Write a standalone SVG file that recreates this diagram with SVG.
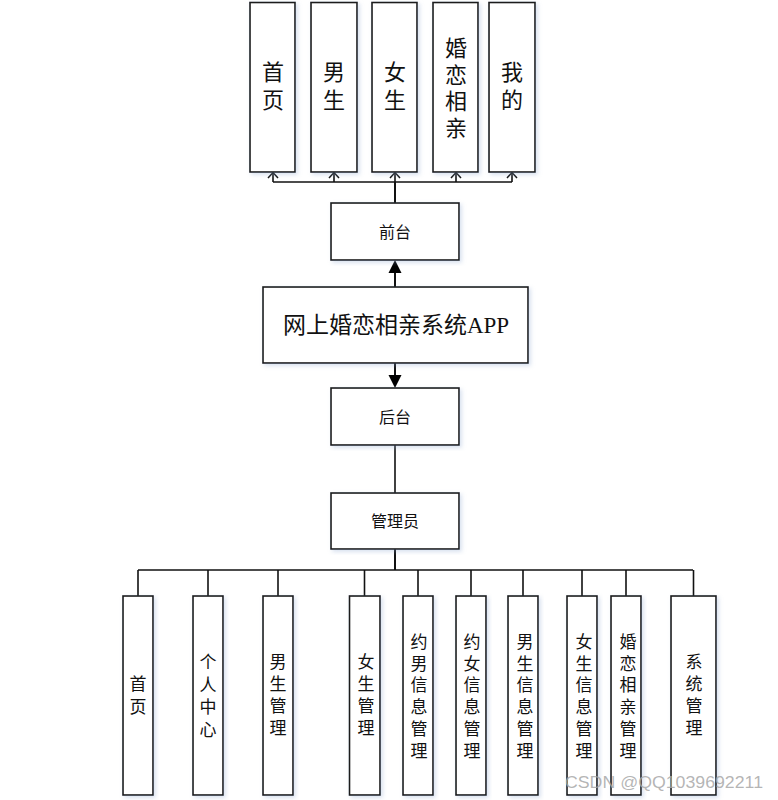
<svg xmlns="http://www.w3.org/2000/svg" width="778" height="800" viewBox="0 0 778 800">
<defs>
<style>
.box{fill:#fff;stroke:#1a1a1a;stroke-width:1.6}
.t{font-family:'Liberation Serif','Noto Sans CJK SC',serif;fill:#111;text-anchor:middle}
.c{fill:none;stroke:#111;stroke-width:1.6}
.ah{fill:none;stroke:#111;stroke-width:1.5}
.wm{font-family:'Liberation Sans',Arial,sans-serif;font-size:17px;fill:#a8a8a8;fill-opacity:0.85}
</style>
<filter id="sh" x="-20%" y="-10%" width="140%" height="120%">
<feDropShadow dx="2" dy="2" stdDeviation="2" flood-color="#8fa8d0" flood-opacity="0.35"/>
</filter>
</defs>
<rect width="778" height="800" fill="#fff"/>

<g id="connectors">
<!-- top bus -->
<path class="c" d="M273,182 H512"/>
<path class="c" d="M273,182 V173"/>
<path class="c" d="M334,182 V173"/>
<path class="c" d="M395,182 V173"/>
<path class="c" d="M456,182 V173"/>
<path class="c" d="M512,182 V173"/>
<path class="ah" d="M268,178 L273,172.5 L278,178"/>
<path class="ah" d="M329,178 L334,172.5 L339,178"/>
<path class="ah" d="M390,178 L395,172.5 L400,178"/>
<path class="ah" d="M451,178 L456,172.5 L461,178"/>
<path class="ah" d="M507,178 L512,172.5 L517,178"/>
<path class="c" d="M395,203 V182" style="stroke-width:2"/>
<!-- main to front -->
<path class="c" d="M395,287 V273" style="stroke-width:2"/>
<path d="M395,260 L401.5,273 L388.5,273 Z" fill="#000"/>
<!-- main to back -->
<path class="c" d="M395,363 V375" style="stroke-width:2"/>
<path d="M388.5,375 L401.5,375 L395,388 Z" fill="#000"/>
<!-- back to admin -->
<path class="c" d="M395,445 V493"/>
<!-- bottom bus -->
<path class="c" d="M395,549 V570" style="stroke-width:2"/>
<path class="c" d="M138,570 H693"/>
<path class="c" d="M138,570 V596"/>
<path class="c" d="M208,570 V596"/>
<path class="c" d="M278,570 V596"/>
<path class="c" d="M364.5,570 V596"/>
<path class="c" d="M418,570 V596"/>
<path class="c" d="M471,570 V596"/>
<path class="c" d="M523,570 V596"/>
<path class="c" d="M582,570 V596"/>
<path class="c" d="M626,570 V596"/>
<path class="c" d="M693.5,570 V596"/>
</g>

<g id="top-home"><rect class="box" filter="url(#sh)" x="250" y="2.5" width="45" height="169.5"/>
<text class="t" font-size="22" x="273" y="80">首<tspan x="273" dy="28">页</tspan></text></g>
<g id="top-male"><rect class="box" filter="url(#sh)" x="311" y="2.5" width="46" height="169.5"/>
<text class="t" font-size="22" x="334" y="80">男<tspan x="334" dy="28">生</tspan></text></g>
<g id="top-female"><rect class="box" filter="url(#sh)" x="372" y="2.5" width="45" height="169.5"/>
<text class="t" font-size="22" x="395" y="80">女<tspan x="395" dy="28">生</tspan></text></g>
<g id="top-dating"><rect class="box" filter="url(#sh)" x="433" y="2.5" width="45" height="169.5"/>
<text class="t" font-size="22" x="456" y="56">婚<tspan x="456" dy="26.5">恋</tspan><tspan x="456" dy="26.5">相</tspan><tspan x="456" dy="26.5">亲</tspan></text></g>
<g id="top-mine"><rect class="box" filter="url(#sh)" x="489" y="2.5" width="46" height="169.5"/>
<text class="t" font-size="22" x="512" y="80">我<tspan x="512" dy="28">的</tspan></text></g>

<g id="front"><rect class="box" filter="url(#sh)" x="331" y="203" width="128" height="57"/>
<text class="t" font-size="16" x="395" y="238">前台</text></g>

<g id="main"><rect class="box" filter="url(#sh)" x="263" y="287" width="265" height="76"/>
<text class="t" font-size="23" x="396" y="333">网上婚恋相亲系统APP</text></g>

<g id="back"><rect class="box" filter="url(#sh)" x="331" y="388" width="128" height="57"/>
<text class="t" font-size="16" x="395" y="423">后台</text></g>

<g id="admin"><rect class="box" filter="url(#sh)" x="331" y="493" width="128" height="56"/>
<text class="t" font-size="16" x="395" y="527">管理员</text></g>

<g id="b-home"><rect class="box" filter="url(#sh)" x="123" y="596" width="30" height="199"/>
<text class="t" font-size="17" x="138" y="690">首<tspan x="138" dy="23">页</tspan></text></g>
<g id="b-center"><rect class="box" filter="url(#sh)" x="193" y="596" width="30" height="199"/>
<text class="t" font-size="17" x="208" y="668">个<tspan x="208" dy="22.5">人</tspan><tspan x="208" dy="22.5">中</tspan><tspan x="208" dy="22.5">心</tspan></text></g>
<g id="b-male"><rect class="box" filter="url(#sh)" x="263" y="596" width="30" height="199"/>
<text class="t" font-size="17" x="278" y="668">男<tspan x="278" dy="22">生</tspan><tspan x="278" dy="22">管</tspan><tspan x="278" dy="22">理</tspan></text></g>
<g id="b-female"><rect class="box" filter="url(#sh)" x="349.5" y="596" width="30.5" height="199"/>
<text class="t" font-size="17" x="366" y="668">女<tspan x="366" dy="22">生</tspan><tspan x="366" dy="22">管</tspan><tspan x="366" dy="22">理</tspan></text></g>
<g id="b-datemale"><rect class="box" filter="url(#sh)" x="403" y="596" width="30" height="199"/>
<text class="t" font-size="17" x="419" y="648">约<tspan x="419" dy="21.7">男</tspan><tspan x="419" dy="21.7">信</tspan><tspan x="419" dy="21.7">息</tspan><tspan x="419" dy="21.7">管</tspan><tspan x="419" dy="21.7">理</tspan></text></g>
<g id="b-datefemale"><rect class="box" filter="url(#sh)" x="456" y="596" width="30" height="199"/>
<text class="t" font-size="17" x="472" y="648">约<tspan x="472" dy="21.7">女</tspan><tspan x="472" dy="21.7">信</tspan><tspan x="472" dy="21.7">息</tspan><tspan x="472" dy="21.7">管</tspan><tspan x="472" dy="21.7">理</tspan></text></g>
<g id="b-maleinfo"><rect class="box" filter="url(#sh)" x="508" y="596" width="30" height="199"/>
<text class="t" font-size="17" x="525" y="648">男<tspan x="525" dy="21.7">生</tspan><tspan x="525" dy="21.7">信</tspan><tspan x="525" dy="21.7">息</tspan><tspan x="525" dy="21.7">管</tspan><tspan x="525" dy="21.7">理</tspan></text></g>
<g id="b-femaleinfo"><rect class="box" filter="url(#sh)" x="567" y="596" width="30" height="199"/>
<text class="t" font-size="17" x="584" y="648">女<tspan x="584" dy="21.7">生</tspan><tspan x="584" dy="21.7">信</tspan><tspan x="584" dy="21.7">息</tspan><tspan x="584" dy="21.7">管</tspan><tspan x="584" dy="21.7">理</tspan></text></g>
<g id="b-dating"><rect class="box" filter="url(#sh)" x="611" y="596" width="30" height="199"/>
<text class="t" font-size="17" x="628" y="648">婚<tspan x="628" dy="21.7">恋</tspan><tspan x="628" dy="21.7">相</tspan><tspan x="628" dy="21.7">亲</tspan><tspan x="628" dy="21.7">管</tspan><tspan x="628" dy="21.7">理</tspan></text></g>
<g id="b-system"><rect class="box" filter="url(#sh)" x="671" y="596" width="45" height="199"/>
<text class="t" font-size="17" x="694" y="668">系<tspan x="694" dy="22">统</tspan><tspan x="694" dy="22">管</tspan><tspan x="694" dy="22">理</tspan></text></g>

<text class="wm" x="565" y="788" textLength="198" lengthAdjust="spacingAndGlyphs">CSDN @QQ1039692211</text>
</svg>
